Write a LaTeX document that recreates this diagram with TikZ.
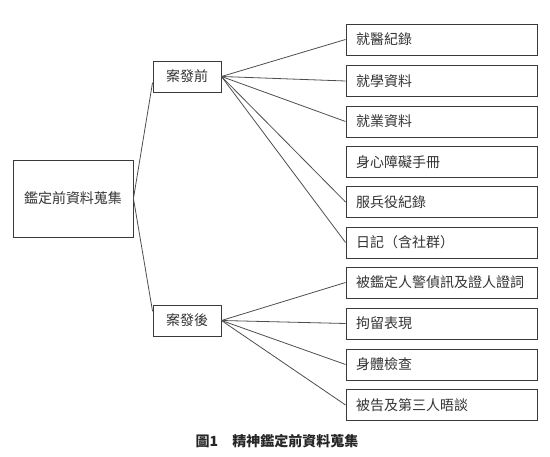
\documentclass[tikz,border=0pt]{standalone}
\usepackage{fontspec}
\setmainfont{Noto Sans CJK TC}
\definecolor{boxline}{HTML}{3A3A3A}
\definecolor{boxtext}{HTML}{333333}
\tikzset{
  box/.style={draw=boxline, line width=0.9pt, text=boxtext, font=\fontsize{14}{16}\selectfont, inner sep=0pt},
  leafbox/.style={box, minimum height=31pt, text width=171pt, inner xsep=10pt, align=left},
  link/.style={draw=boxline!90, line width=0.8pt}
}
\begin{document}
\begin{tikzpicture}[x=1pt, y=-1pt]
    \useasboundingbox (0,0) rectangle (550,457);

    % root and the two stages
    \node[box, minimum width=120pt, minimum height=77pt] (root) at (73,198.5) {鑑定前資料蒐集};
    \node[box, minimum width=68pt, minimum height=31pt] (qian) at (187,76.5) {案發前};
    \node[box, minimum width=68pt, minimum height=31pt] (hou) at (187,320.5) {案發後};

    \draw[link] (root.east) -- (qian.190);
    \draw[link] (root.east) -- (hou.165);

    % leaves
    \foreach \n/\y/\t in {1/39.5/就醫紀錄, 2/81/就學資料, 3/121.5/就業資料, 4/162/身心障礙手冊,
                          5/202/服兵役紀錄, 6/242.5/日記（含社群）, 7/282.5/被鑑定人警偵訊及證人證詞,
                          8/323.5/拘留表現, 9/364.5/身體檢查, 10/405/被告及第三人晤談}
        \node[leafbox] (l\n) at (441.5,\y) {\t};

    \foreach \n in {1,2,3,5,6}
        \draw[link] (qian.east) -- (l\n.west);
    \foreach \n in {7,8,9,10}
        \draw[link] (hou.east) -- (l\n.west);

    % caption
    \node[font=\fontsize{14}{16}\selectfont\bfseries, text=black!85] (cap) at (277,441) {圖1　精神鑑定前資料蒐集};
\end{tikzpicture}
\end{document}
